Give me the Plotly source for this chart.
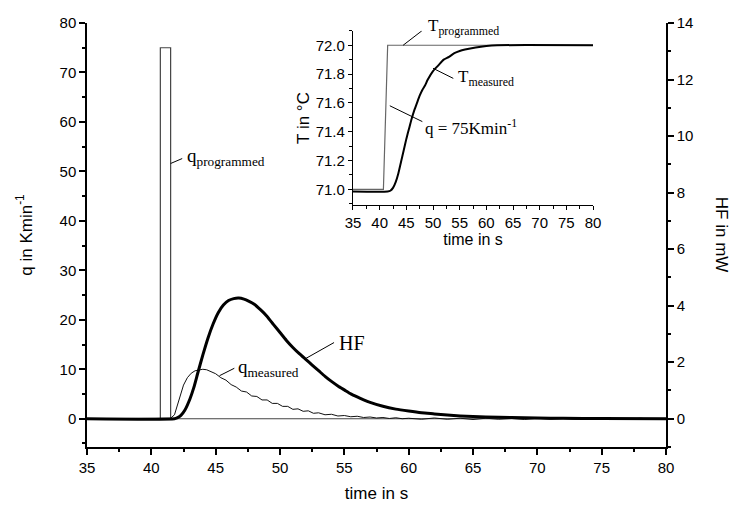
import plotly.graph_objects as go

# ---------------- data ----------------
# programmed heating rate (K/min) vs time (s)
t_qprog = [35.0, 40.7, 40.7, 41.5, 41.5, 80.0]
q_prog = [0.0, 0.0, 75.0, 75.0, 0.0, 0.0]

# measured heating rate (K/min)
t_qmeas = [35.0, 38.0, 41.0, 41.5, 41.8, 42.0, 42.2, 42.5, 42.8, 43.1, 43.4, 43.7, 44.0,
           44.3, 44.6, 45.0, 45.4, 45.8, 46.2, 46.6, 47.0, 47.4, 47.8, 48.2, 48.6,
           49.0, 49.4, 49.8, 50.2, 50.6, 51.0, 51.4, 51.8, 52.2, 52.6, 53.0, 53.5,
           54.0, 54.5, 55.0, 55.5, 56.0, 56.5, 57.0, 57.5, 58.0, 58.5, 59.0, 59.5,
           60.0, 61.0, 62.0, 63.0, 64.0, 65.0, 66.0, 67.0, 68.0, 69.0, 70.0, 71.0,
           72.0, 73.0, 74.0, 75.0, 76.0, 77.0, 78.0, 79.0, 80.0]
q_meas = [0.0, 0.0, 0.0, 0.1, 0.8, 2.5, 4.5, 6.8, 8.3, 9.2, 9.7, 9.9, 10.0,
          9.9, 9.5, 9.1, 8.3, 7.8, 6.9, 6.4, 5.6, 5.4, 4.6, 4.5, 3.8,
          3.8, 3.1, 3.1, 2.5, 2.5, 1.9, 2.0, 1.5, 1.6, 1.1, 1.2, 0.8,
          0.9, 0.55, 0.65, 0.4, 0.5, 0.25, 0.35, 0.15, 0.25, 0.05, 0.2, 0.0,
          0.1, -0.1, 0.15, -0.1, 0.1, -0.15, 0.1, -0.1, 0.05, -0.15, 0.1, -0.1,
          0.05, -0.1, 0.1, -0.15, 0.05, -0.1, 0.1, -0.1, 0.0]

# heat flow (mW)
t_hf = [35.0, 41.8, 42.0, 42.3, 42.6, 43.0, 43.3, 43.6, 44.0, 44.4, 44.8, 45.2, 45.6,
        46.0, 46.4, 46.8, 47.2, 47.6, 48.0, 48.5, 49.0, 49.5, 50.0, 50.5, 51.0,
        51.5, 52.0, 52.5, 53.0, 53.5, 54.0, 54.5, 55.0, 55.5, 56.0, 56.5, 57.0,
        58.0, 59.0, 60.0, 61.0, 62.0, 63.0, 64.0, 65.0, 66.0, 68.0, 70.0, 72.0,
        75.0, 80.0]
hf = [0.0, 0.0, 0.03, 0.12, 0.3, 0.7, 1.1, 1.6, 2.25, 2.85, 3.35, 3.75, 4.02,
      4.18, 4.25, 4.27, 4.23, 4.15, 4.05, 3.85, 3.62, 3.33, 3.05, 2.77, 2.52,
      2.3, 2.1, 1.9, 1.7, 1.5, 1.32, 1.16, 1.02, 0.88, 0.77, 0.67, 0.58,
      0.44, 0.34, 0.27, 0.21, 0.17, 0.13, 0.1, 0.08, 0.06, 0.04, 0.025, 0.015,
      0.01, 0.0]

# inset: temperatures (°C)
t_Tprog = [35.0, 40.7, 41.5, 80.0]
T_prog = [71.0, 71.0, 72.0, 72.0]

t_Tmeas = [35.0, 41.5, 42.0, 42.5, 43.0, 43.5, 44.0, 44.5, 45.0, 45.5, 46.0, 46.5,
           47.0, 47.5, 48.0, 48.5, 49.0, 50.0, 51.0, 52.0, 53.0, 54.0, 55.0, 56.0,
           58.0, 60.0, 62.0, 80.0]
T_meas = [70.985, 70.985, 70.99, 71.01, 71.05, 71.11, 71.19, 71.27, 71.35, 71.42,
          71.49, 71.55, 71.6, 71.65, 71.69, 71.72, 71.76, 71.82, 71.86, 71.9,
          71.92, 71.945, 71.96, 71.97, 71.985, 71.995, 72.0, 72.0]

x_ticks = [35, 40, 45, 50, 55, 60, 65, 70, 75, 80]

# ---------------- figure ----------------
SANS = "Liberation Sans, Arial, sans-serif"
SERIF = "Liberation Serif, Times New Roman, serif"

fig = go.Figure()

fig.add_trace(go.Scatter(x=t_qprog, y=q_prog, mode="lines", name="q programmed",
                         line=dict(color="#444444", width=1.2), xaxis="x", yaxis="y"))
fig.add_trace(go.Scatter(x=t_qmeas, y=q_meas, mode="lines", name="q measured",
                         line=dict(color="#111111", width=1), xaxis="x", yaxis="y"))
fig.add_trace(go.Scatter(x=t_hf, y=hf, mode="lines", name="HF",
                         line=dict(color="black", width=3, shape="spline", smoothing=0.6),
                         xaxis="x", yaxis="y2"))
fig.add_trace(go.Scatter(x=t_Tprog, y=T_prog, mode="lines", name="T programmed",
                         line=dict(color="#666666", width=1.2), xaxis="x3", yaxis="y3"))
fig.add_trace(go.Scatter(x=t_Tmeas, y=T_meas, mode="lines", name="T measured",
                         line=dict(color="black", width=2, shape="spline", smoothing=0.6),
                         xaxis="x3", yaxis="y3"))

axis_common = dict(showline=True, linecolor="black", linewidth=1.5, ticks="outside",
                   tickcolor="black", tickwidth=1.5, ticklen=6, showgrid=False,
                   zeroline=False, ticklabeloverflow="allow",
                   tickfont=dict(family=SANS, size=15, color="black"))
inset_common = {**axis_common, "linewidth": 1.2, "tickwidth": 1.2, "ticklen": 4,
                "tickfont": dict(family=SANS, size=15, color="black")}

# the page body has an 8 px margin, so the figure is 8 px smaller in each direction
fig.update_layout(
    width=730, height=500,
    margin=dict(l=79, r=72, t=6, b=61),
    paper_bgcolor="white", plot_bgcolor="white",
    showlegend=False,
    xaxis=dict(range=[35, 80], tickvals=x_ticks, domain=[0, 1], anchor="y",
               minor=dict(ticks="outside", dtick=2.5, tick0=35, ticklen=3,
                          tickcolor="black", tickwidth=1.5),
               title=dict(text="time in s", font=dict(family=SANS, size=17, color="black"),
                          standoff=12),
               **axis_common),
    yaxis=dict(range=[-5.714, 80], dtick=10, tick0=0, anchor="x", domain=[0, 1],
               minor=dict(ticks="outside", dtick=5, tick0=0, ticklen=3,
                          tickcolor="black", tickwidth=1.5),
               title=dict(text="q in Kmin<sup>-1</sup>",
                          font=dict(family=SANS, size=17, color="black"), standoff=23),
               **axis_common),
    yaxis2=dict(range=[-1, 14], dtick=2, tick0=0, anchor="x", overlaying="y", side="right",
                minor=dict(ticks="outside", dtick=1, tick0=0, ticklen=3,
                           tickcolor="black", tickwidth=1.5),
                **axis_common),
    xaxis3=dict(range=[35, 80], tickvals=x_ticks, domain=[0.4594, 0.874], anchor="y3",
                minor=dict(ticks="outside", dtick=2.5, tick0=35, ticklen=3,
                           tickcolor="black", tickwidth=1.2),
                title=dict(text="time in s", font=dict(family=SANS, size=16, color="black"),
                           standoff=3),
                **inset_common),
    yaxis3=dict(range=[70.89, 72.1], dtick=0.2, tick0=71.0, tickformat=".1f",
                domain=[0.5704, 0.9815], anchor="x3",
                minor=dict(ticks="outside", dtick=0.1, tick0=71.0, ticklen=3,
                           tickcolor="black", tickwidth=1.2),
                title=dict(text="T in °C", font=dict(family=SANS, size=17, color="black"),
                           standoff=1),
                **inset_common),
)

def label(text, x, y, xref, yref, size, anchor="left"):
    fig.add_annotation(text=text, x=x, y=y, xref=xref, yref=yref, showarrow=False,
                       xanchor=anchor, yanchor="middle",
                       font=dict(family=SERIF, size=size, color="black"))

def pointer(x0, y0, x1, y1, xref, yref):
    fig.add_shape(type="line", x0=x0, y0=y0, x1=x1, y1=y1, xref=xref, yref=yref,
                  line=dict(color="black", width=1))

# main chart labels
label("q<sub>programmed</sub>", 42.6, 53.0, "x", "y", 19)
pointer(41.5, 51.6, 42.4, 52.6, "x", "y")
label("q<sub>measured</sub>", 46.6, 10.3, "x", "y", 19)
pointer(45.3, 8.7, 46.45, 10.2, "x", "y")
label("HF", 54.4, 15.3, "x", "y", 20)
pointer(51.95, 12.1, 54.2, 15.4, "x", "y")

# inset labels (T_programmed sits above the inset's top, so it uses paper coordinates)
label("T<sub>programmed</sub>", 0.5855, 0.99, "paper", "paper", 17)
pointer(44.4, 72.0, 47.9, 72.1, "x3", "y3")
label("T<sub>measured</sub>", 54.4, 71.77, "x3", "y3", 17)
pointer(50.0, 71.84, 53.8, 71.77, "x3", "y3")
label("q = 75Kmin<sup>-1</sup>", 48.2, 71.43, "x3", "y3", 17)
pointer(41.9, 71.58, 48.0, 71.47, "x3", "y3")

# right axis title (reads top to bottom)
fig.add_annotation(text="HF in mW", x=1.097, y=0.5, xref="paper", yref="paper",
                   showarrow=False, textangle=90, xanchor="center", yanchor="middle",
                   font=dict(family=SANS, size=17, color="black"))

fig.write_html("out.html")
